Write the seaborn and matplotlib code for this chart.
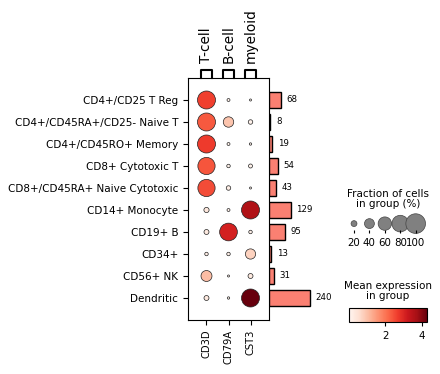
import numpy as np
import pandas as pd
import matplotlib
matplotlib.use('Agg')
import matplotlib.pyplot as plt
from matplotlib.colors import Normalize
from matplotlib.cm import ScalarMappable
import seaborn as sns

# data
groups = ['CD4+/CD25 T Reg', 'CD4+/CD45RA+/CD25- Naive T', 'CD4+/CD45RO+ Memory',
          'CD8+ Cytotoxic T', 'CD8+/CD45RA+ Naive Cytotoxic', 'CD14+ Monocyte',
          'CD19+ B', 'CD34+', 'CD56+ NK', 'Dendritic']
genes = ['CD3D', 'CD79A', 'CST3']
gene_groups = ['T-cell', 'B-cell', 'myeloid']
cell_counts = [68, 8, 19, 54, 43, 129, 95, 13, 31, 240]

# fraction of cells expressing (0-1), one list per gene
frac_cd3d = [0.89, 0.89, 0.89, 0.84, 0.84, 0.17, 0.16, 0.10, 0.46, 0.16]
frac_cd79a = [0.08, 0.43, 0.08, 0.10, 0.14, 0.08, 0.87, 0.10, 0.05, 0.06]
frac_cst3 = [0.05, 0.14, 0.06, 0.12, 0.05, 0.89, 0.10, 0.42, 0.16, 0.89]

# mean expression in group
expr_cd3d = [2.65, 2.35, 2.70, 2.40, 2.50, 0.35, 0.30, 0.20, 1.05, 0.30]
expr_cd79a = [0.10, 0.95, 0.10, 0.10, 0.20, 0.10, 3.10, 0.15, 0.05, 0.10]
expr_cst3 = [0.05, 0.10, 0.10, 0.10, 0.05, 3.60, 0.15, 0.75, 0.30, 4.30]

legend_fracs = [0.2, 0.4, 0.6, 0.8, 1.0]
legend_labels = ['20', '40', '60', '80', '100']

vmin, vmax = 0.0, 4.3
largest_dot = 200.0
size_exponent = 1.5

# long table for seaborn
df = pd.DataFrame({
    'group': groups * 3,
    'gene': np.repeat(genes, len(groups)),
    'frac': frac_cd3d + frac_cd79a + frac_cst3,
    'expr': expr_cd3d + expr_cd79a + expr_cst3,
})
df['dot_size'] = df['frac'] ** size_exponent * largest_dot

W, H = 440, 374
fig = plt.figure(figsize=(W / 100, H / 100), dpi=100)


def px_axes(left, top, right, bottom):
    # axes from pixel coordinates (origin at top-left)
    return fig.add_axes([left / W, 1 - bottom / H, (right - left) / W, (bottom - top) / H])


# main dot plot
ax = px_axes(188, 78, 269, 320)
sns.scatterplot(data=df, x='gene', y='group', hue='expr', size='dot_size',
                sizes=(0, largest_dot), size_norm=(0, largest_dot),
                palette='Reds', hue_norm=(vmin, vmax),
                edgecolor='#222222', linewidth=0.5, legend=False, ax=ax, zorder=3)
ax.set_xlim(-0.84, 2.84)
ax.set_ylim(10, -1)
ax.set_xticks(range(len(genes)))
ax.set_xticklabels(genes, rotation=90, fontsize=7.2)
ax.set_yticks(range(len(groups)))
ax.set_yticklabels(groups, fontsize=7.5)
ax.set_xlabel('')
ax.set_ylabel('')
ax.tick_params(length=3.5, width=0.8)
for sp in ax.spines.values():
    sp.set_linewidth(0.8)

# gene group brackets
ax_br = px_axes(188, 68, 269, 78)
ax_br.set_xlim(ax.get_xlim())
ax_br.set_ylim(0, 1)
for i, name in enumerate(gene_groups):
    ax_br.plot([i - 0.25, i - 0.25, i + 0.25, i + 0.25], [0, 0.85, 0.85, 0],
               color='black', lw=1.5, clip_on=False)
    ax_br.text(i, 1.5, name, rotation=90, ha='center', va='bottom', fontsize=9.8)
ax_br.axis('off')

# totals bar plot
ax_bar = px_axes(269, 78, 326, 320)
sns.barplot(x=cell_counts, y=groups, orient='h', color='salmon', saturation=1,
            edgecolor='black', linewidth=1, width=0.7, ax=ax_bar)
ax_bar.set_ylim(10, -1)
ax_bar.set_xlim(0, max(cell_counts) * 1.4)
ax_bar.bar_label(ax_bar.containers[0], padding=4, fontsize=6.2)
ax_bar.axis('off')

# size legend
ax_sz = px_axes(346, 214, 424, 230)
ax_sz.scatter(range(len(legend_fracs)), [0.4] * len(legend_fracs),
              s=np.array(legend_fracs) ** size_exponent * largest_dot,
              color='gray', edgecolor='#444444', linewidth=0.5, clip_on=False)
ax_sz.set_xlim(-0.52, 4.54)
ax_sz.set_ylim(0, 1)
ax_sz.set_xticks(range(len(legend_fracs)))
ax_sz.set_xticklabels(legend_labels, fontsize=7.4)
ax_sz.set_yticks([])
ax_sz.tick_params(axis='x', length=2, width=0.8, pad=4)
for sp in ax_sz.spines.values():
    sp.set_visible(False)
fig.text(388 / W, 1 - 199 / H, 'Fraction of cells\nin group (%)', ha='center',
         va='center', fontsize=7.5, linespacing=1.05)

# colorbar
cax = px_axes(349, 308, 427, 322)
sm = ScalarMappable(norm=Normalize(vmin, vmax), cmap='Reds')
cb = fig.colorbar(sm, cax=cax, orientation='horizontal')
cb.set_ticks([2, 4])
cb.ax.tick_params(labelsize=7.4, length=3, width=0.8)
cb.outline.set_linewidth(0.8)
fig.text(388 / W, 1 - 291 / H, 'Mean expression\nin group', ha='center',
         va='center', fontsize=7.5, linespacing=1.05)

fig.savefig('out.png', dpi=100)
